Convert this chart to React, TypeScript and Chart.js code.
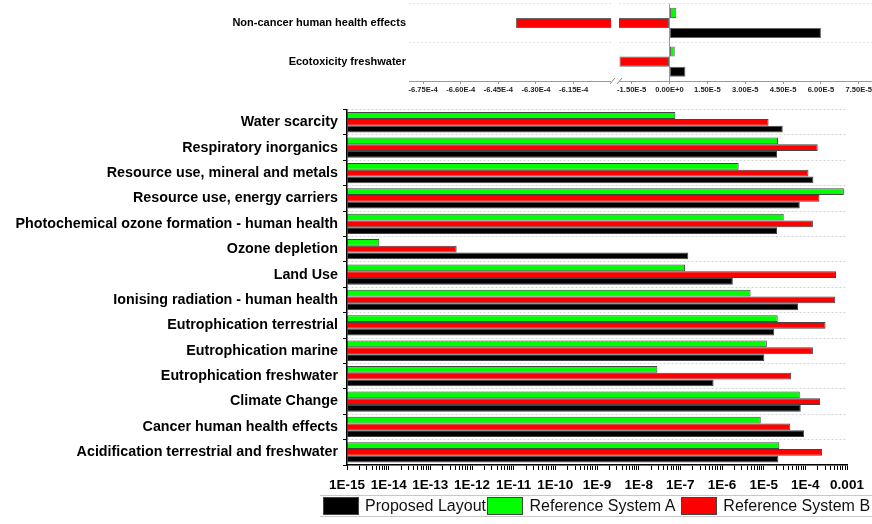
import React, { useEffect, useRef } from "react";
import { Chart, registerables } from "chart.js";

Chart.register(...registerables);

const FONT = '"Liberation Sans", Arial, Helvetica, sans-serif';

// ---------- main (log) chart data ----------
const CATEGORIES = [
  "Water scarcity",
  "Respiratory inorganics",
  "Resource use, mineral and metals",
  "Resource use, energy carriers",
  "Photochemical ozone formation - human health",
  "Ozone depletion",
  "Land Use",
  "Ionising radiation - human health",
  "Eutrophication terrestrial",
  "Eutrophication marine",
  "Eutrophication freshwater",
  "Climate Change",
  "Cancer human health effects",
  "Acidification terrestrial and freshwater",
];
const PROPOSED_LAYOUT = [2.87e-5, 2.09e-5, 1.56e-4, 7.35e-5, 2.09e-5, 1.55e-7, 1.82e-6, 6.68e-5, 1.79e-5, 1.04e-5, 6.28e-7, 7.77e-5, 9.35e-5, 2.25e-5];
const REFERENCE_A = [7.6e-8, 2.21e-5, 2.51e-6, 8.4e-4, 3.03e-5, 5.96e-15, 1.3e-7, 4.85e-6, 2.17e-5, 1.19e-5, 2.81e-8, 7.35e-5, 8.5e-6, 2.38e-5];
const REFERENCE_B = [1.31e-5, 1.98e-4, 1.19e-4, 2.18e-4, 1.52e-4, 4.28e-13, 5.44e-4, 5.24e-4, 3.05e-4, 1.52e-4, 4.59e-5, 2.26e-4, 4.35e-5, 2.53e-4];

const LOG_TICK_LABELS = ["1E-15", "1E-14", "1E-13", "1E-12", "1E-11", "1E-10", "1E-9", "1E-8", "1E-7", "1E-6", "1E-5", "1E-4", "0.001"];
const LOG_MIN_EXP = -15;
const LOG_MAX_EXP = -3;

// ---------- top (broken linear axis) chart data ----------
const TOP_CATEGORIES = ["Non-cancer human health effects", "Ecotoxicity freshwater"];
const TOP_PROPOSED_LAYOUT = [6.0e-5, 6.3e-6];
const TOP_REFERENCE_A = [2.7e-6, 2.1e-6];
const TOP_REFERENCE_B = [-6.38e-4, -1.98e-5];

const TOP_LEFT_RANGE = [-6.806e-4, -6.001e-4];
const TOP_RIGHT_RANGE = [-2.0e-5, 8.34e-5];
const TOP_STEP = 1.5e-5;

// ---------- series ----------
const SERIES = ["Proposed Layout", "Reference System A", "Reference System B"];
const COLORS = ["#000000", "#00ff00", "#ff0000"];
const LEGEND_GAPS = [1.5, 6, 0];

function makeDatasets(p: number[], a: number[], b: number[], borderColor: string) {
  // drawn top-to-bottom: A, B, Proposed
  const mk = (label: string, data: number[], color: string) => ({
    label,
    data,
    backgroundColor: color,
    borderColor,
    borderWidth: 1,
    borderSkipped: false,
  });
  return [mk(SERIES[1], a, COLORS[1]), mk(SERIES[2], b, COLORS[2]), mk(SERIES[0], p, COLORS[0])];
}

const fmtExp = (v: number) => {
  const r = Math.abs(v) < 1e-12 ? 0 : v;
  return r.toExponential(2).toUpperCase();
};

function ChartCanvas({ config, style, width, height }: { config: () => any; style: React.CSSProperties; width: number; height: number }) {
  const ref = useRef<HTMLCanvasElement | null>(null);
  useEffect(() => {
    if (!ref.current) return;
    const chart = new Chart(ref.current, config());
    return () => chart.destroy();
  }, []);
  return <canvas ref={ref} width={width} height={height} style={{ position: "absolute", width, height, ...style }} />;
}

const topCommon = (range: number[]) => ({
  type: "bar",
  data: {
    labels: TOP_CATEGORIES,
    datasets: makeDatasets(TOP_PROPOSED_LAYOUT, TOP_REFERENCE_A, TOP_REFERENCE_B, "#666666"),
  },
  options: {
    indexAxis: "y",
    animation: false,
    responsive: false,
    maintainAspectRatio: false,
    datasets: { bar: { categoryPercentage: 0.78, barPercentage: 1 } },
    plugins: { legend: { display: false }, tooltip: { enabled: false } },
    scales: {
      x: {
        type: "linear",
        min: range[0],
        max: range[1],
        afterFit: (s: any) => {
          s.height = 19;
        },
        ticks: {
          stepSize: TOP_STEP,
          includeBounds: false,
          autoSkip: false,
          maxRotation: 0,
          minRotation: 0,
          padding: 1,
          color: "#222",
          font: { family: FONT, size: 7.6, weight: "bold" },
          callback: (v: any) => fmtExp(Number(v)),
        },
        grid: {
          drawOnChartArea: false,
          drawTicks: true,
          tickLength: 3,
          tickColor: "#999",
        },
        border: { color: "#999", width: 1 },
      },
    },
  },
});

function topLeftConfig() {
  const cfg: any = topCommon(TOP_LEFT_RANGE);
  cfg.options.layout = { padding: { top: 0, right: 0, left: 0, bottom: 0 } };
  cfg.options.scales.y = {
    afterFit: (s: any) => {
      s.width = 409;
    },
    ticks: { color: "#000", padding: 3, font: { family: FONT, size: 11, weight: "bold" } },
    grid: { offset: true, drawTicks: false, color: "#e6e6e6" },
    border: { display: false, dash: [2, 2] },
  };
  return cfg;
}

function topRightConfig() {
  const cfg: any = topCommon(TOP_RIGHT_RANGE);
  cfg.options.layout = { padding: { top: 3.6, right: 20, left: 19, bottom: 0 } };
  cfg.options.scales.x.grid = {
    drawOnChartArea: true,
    drawTicks: true,
    tickLength: 3,
    tickColor: "#999",
    color: (c: any) => (c.tick && Math.abs(c.tick.value) < 1e-12 ? "#999" : "rgba(0,0,0,0)"),
  };
  cfg.options.scales.y = {
    afterFit: (s: any) => {
      s.width = 0;
    },
    ticks: { display: false },
    grid: { offset: true, drawTicks: false, color: "#e6e6e6" },
    border: { display: false, dash: [2, 2] },
  };
  cfg.plugins = [
    {
      id: "axisBreak",
      afterDraw(chart: any) {
        const { ctx, chartArea } = chart;
        const l = chartArea.left;
        const b = chartArea.bottom;
        ctx.save();
        ctx.strokeStyle = "#888";
        ctx.lineWidth = 1;
        ctx.beginPath();
        ctx.moveTo(l - 9, b + 3);
        ctx.lineTo(l - 4, b - 3);
        ctx.moveTo(l - 2, b + 3);
        ctx.lineTo(l + 3, b - 3);
        ctx.stroke();
        ctx.restore();
      },
    },
  ];
  return cfg;
}

function mainConfig() {
  return {
    type: "bar",
    data: {
      labels: CATEGORIES,
      datasets: makeDatasets(PROPOSED_LAYOUT, REFERENCE_A, REFERENCE_B, "#444444"),
    },
    options: {
      indexAxis: "y",
      animation: false,
      responsive: false,
      maintainAspectRatio: false,
      layout: { padding: { top: 0, right: 25, left: 0, bottom: 0 } },
      datasets: { bar: { categoryPercentage: 0.8, barPercentage: 1 } },
      plugins: { legend: { display: false }, tooltip: { enabled: false } },
      scales: {
        x: {
          type: "logarithmic",
          min: Math.pow(10, LOG_MIN_EXP),
          max: Math.pow(10, LOG_MAX_EXP),
          afterBuildTicks: (scale: any) => {
            const ticks: any[] = [];
            for (let e = LOG_MIN_EXP; e <= LOG_MAX_EXP; e++) {
              for (let m = 1; m <= 9; m++) {
                if (e === LOG_MAX_EXP && m > 1) break;
                ticks.push({ value: m * Math.pow(10, e), major: m === 1 });
              }
            }
            scale.ticks = ticks;
          },
          afterFit: (s: any) => {
            s.height = 35;
          },
          ticks: {
            autoSkip: false,
            maxRotation: 0,
            minRotation: 0,
            padding: 7,
            color: "#000",
            font: { family: FONT, size: 13.5, weight: "bold" },
            callback: (v: any) => {
              const ex = Math.log10(Number(v));
              const r = Math.round(ex);
              if (Math.abs(ex - r) > 1e-9) return "";
              return LOG_TICK_LABELS[r - LOG_MIN_EXP] ?? "";
            },
          },
          grid: { drawOnChartArea: false, drawTicks: true, tickLength: 5, tickColor: "#000" },
          border: { color: "#000", width: 1.5 },
        },
        y: {
          afterFit: (s: any) => {
            s.width = 347;
          },
          ticks: {
            autoSkip: false,
            padding: 5,
            color: "#000",
            font: { family: FONT, size: 14.3, weight: "bold" },
          },
          grid: {
            offset: true,
            drawOnChartArea: true,
            drawTicks: true,
            tickLength: 4,
            tickColor: "#000",
            color: "#d4d4d4",
          },
          border: { color: "#000", width: 1.5, dash: [2, 2] },
        },
      },
    },
  };
}

function Legend() {
  const order = [0, 1, 2];
  return (
    <div
      style={{
        position: "absolute",
        left: 320,
        top: 495,
        width: 560,
        height: 22,
        borderTop: "1px solid #c8c8c8",
        borderBottom: "1px solid #c8c8c8",
        display: "flex",
        alignItems: "center",
        paddingLeft: 3,
        boxSizing: "border-box",
        font: `16px ${FONT}`,
        color: "#111",
        whiteSpace: "nowrap",
      }}
    >
      {order.map((i) => (
        <React.Fragment key={i}>
          <div
            style={{
              width: 36,
              height: 18,
              background: COLORS[i],
              border: "1px solid #444",
              boxSizing: "border-box",
              flex: "0 0 auto",
            }}
          />
          <span style={{ marginLeft: 6, marginRight: LEGEND_GAPS[i] }}>{SERIES[i]}</span>
        </React.Fragment>
      ))}
    </div>
  );
}

export default function App() {
  return (
    <div
      style={{
        position: "fixed",
        left: 0,
        top: 0,
        width: 872,
        height: 524,
        overflow: "hidden",
        background: "#ffffff",
      }}
    >
      <ChartCanvas config={topLeftConfig} width={611} height={106} style={{ left: 0, top: -6 }} />
      <ChartCanvas config={topRightConfig} width={300} height={100} style={{ left: 600, top: 0 }} />
      <ChartCanvas config={mainConfig} width={872} height={404} style={{ left: 0, top: 96 }} />
      <Legend />
    </div>
  );
}
